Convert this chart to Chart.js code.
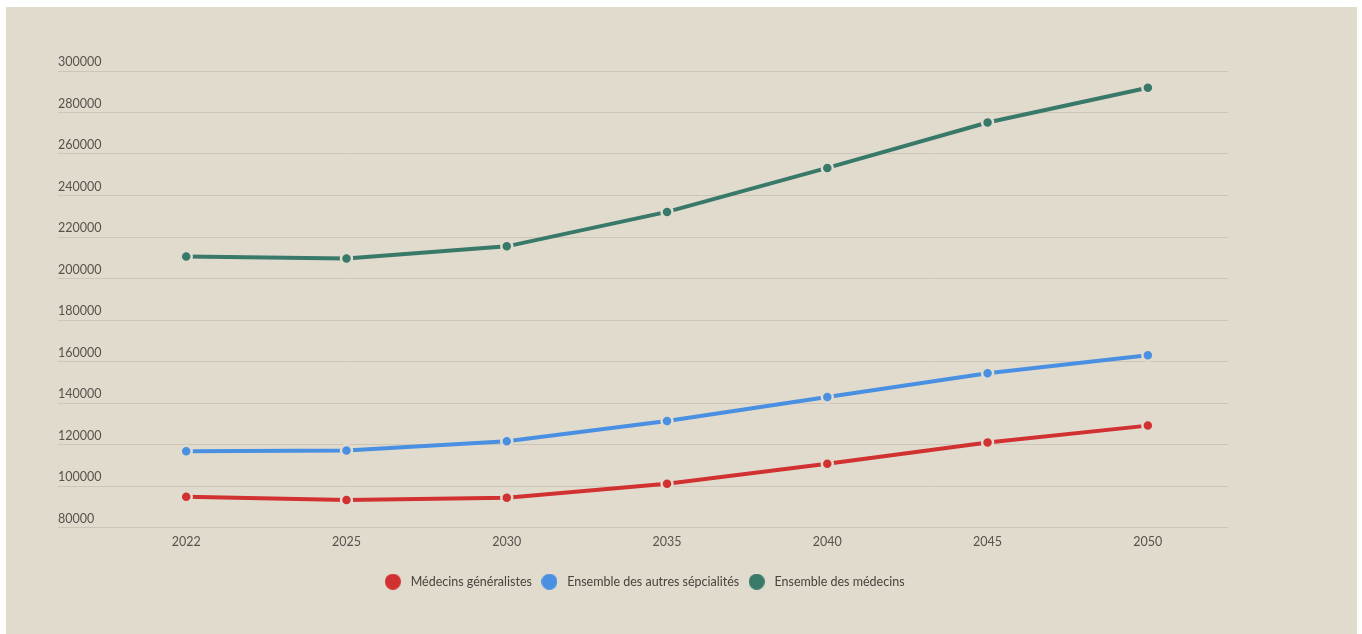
<!DOCTYPE html>
<html lang="fr">
<head>
<meta charset="utf-8">
<title>Projection des effectifs de médecins</title>
<script src="https://cdn.jsdelivr.net/npm/chart.js@4.4.1/dist/chart.umd.min.js"></script>
<style>
  html, body { margin: 0; padding: 0; background: #ffffff; }
  #cadre {
    position: absolute;
    left: 6px; top: 7px;
    width: 1351px; height: 627px;
    background: #e1dbce;
  }
</style>
</head>
<body>
<div id="cadre"><canvas id="graphique"></canvas></div>
<script>
// Années de projection
const annees = ['2022', '2025', '2030', '2035', '2040', '2045', '2050'];

// Effectifs par catégorie
const generalistes = [94800, 93200, 94300, 101100, 110700, 121000, 129100];
const autresSpecialites = [116700, 117100, 121600, 131300, 142900, 154300, 163000];
const ensembleMedecins = [210600, 209600, 215500, 232100, 253300, 275200, 291900];

// Graduations de l'axe vertical
const graduationsY = [80000, 100000, 120000, 140000, 160000, 180000, 200000, 220000, 240000, 260000, 280000, 300000];

const fond = '#e1dbce';
const texte = '#57524c';
const couleurs = ['#d23131', '#4a90e2', '#38796a'];

// Transforme une série en points {x: indice, y: valeur}
function enPoints(valeurs) {
  return valeurs.map((v, i) => ({ x: i, y: v }));
}

// Pastille ronde pour la légende
function pastille(couleur) {
  const c = document.createElement('canvas');
  c.width = 16;
  c.height = 16;
  const g = c.getContext('2d');
  g.fillStyle = couleur;
  g.beginPath();
  g.arc(8, 8, 8, 0, Math.PI * 2);
  g.fill();
  return c;
}
const pastilles = couleurs.map(pastille);

function serie(label, valeurs, couleur) {
  return {
    label: label,
    data: enPoints(valeurs),
    borderColor: couleur,
    backgroundColor: couleur,
    borderWidth: 4,
    pointRadius: 5.5,
    pointHoverRadius: 5.5,
    pointBackgroundColor: couleur,
    pointBorderColor: fond,
    pointBorderWidth: 2.5,
    tension: 0
  };
}

Chart.defaults.font.family = 'Lato, "Noto Sans", sans-serif';
Chart.defaults.font.size = 12.5;
Chart.defaults.color = texte;

new Chart(document.getElementById('graphique'), {
  type: 'line',
  data: {
    datasets: [
      serie('Médecins généralistes', generalistes, couleurs[0]),
      serie('Ensemble des autres sépcialités', autresSpecialites, couleurs[1]),
      serie('Ensemble des médecins', ensembleMedecins, couleurs[2])
    ]
  },
  options: {
    responsive: true,
    maintainAspectRatio: false,
    animation: false,
    layout: {
      padding: { left: 52, right: 129, top: 64, bottom: 36 }
    },
    plugins: {
      legend: {
        position: 'bottom',
        labels: {
          usePointStyle: true,
          pointStyleWidth: 23,
          padding: 6,
          color: '#47423d',
          generateLabels: chart => Chart.defaults.plugins.legend.labels.generateLabels(chart)
            .map(l => ({ ...l, pointStyle: pastilles[l.datasetIndex] }))
        }
      },
      tooltip: { enabled: false }
    },
    scales: {
      x: {
        type: 'linear',
        min: -0.8,
        max: 6.5,
        afterBuildTicks: axe => {
          axe.ticks = annees.map((a, i) => ({ value: i }));
        },
        // espace entre les années et la légende
        afterFit: axe => {
          axe.height += 21;
        },
        ticks: {
          callback: v => annees[v],
          padding: -1,
          maxRotation: 0
        },
        grid: { display: false },
        border: { display: false }
      },
      y: {
        min: 80000,
        max: 300000,
        afterBuildTicks: axe => {
          axe.ticks = graduationsY.map(v => ({ value: v }));
        },
        ticks: {
          mirror: true,
          padding: 0,
          labelOffset: -9,
          callback: v => String(v)
        },
        grid: {
          color: '#cdc6b8',
          lineWidth: 1,
          drawTicks: false
        },
        border: { display: false }
      }
    }
  }
});
</script>
</body>
</html>
